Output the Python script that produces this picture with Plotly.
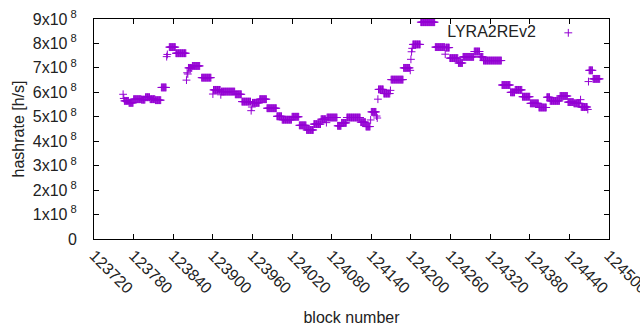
import plotly.graph_objects as go

# Runs of consecutive blocks with a constant hashrate estimate (units of 1e8 h/s)
seg_start = [123764, 123765, 123766, 123773, 123780, 123792, 123798, 123805, 123813, 123822,
             123830, 123831, 123834, 123844, 123860, 123861, 123862, 123863, 123869, 123883,
             123900, 123901, 123912, 123913, 123934, 123944, 123958, 123959, 123960, 123971,
             123982, 123997, 124005, 124020, 124031, 124042, 124053, 124064, 124072, 124073,
             124089, 124095, 124103, 124124, 124132, 124139, 124140, 124148, 124149, 124150,
             124151, 124159, 124169, 124170, 124189, 124199, 124200, 124201, 124202, 124203,
             124215, 124237, 124252, 124253, 124259, 124272, 124279, 124296, 124305, 124310,
             124338, 124351, 124358, 124369, 124381, 124394, 124406, 124411, 124426, 124438,
             124447, 124457, 124458, 124468, 124469, 124470, 124476]
seg_end = [123764, 123765, 123772, 123779, 123791, 123797, 123804, 123812, 123821, 123829,
           123830, 123831, 123843, 123859, 123860, 123861, 123862, 123868, 123880, 123897,
           123900, 123911, 123912, 123933, 123943, 123957, 123958, 123959, 123970, 123981,
           123996, 124004, 124019, 124030, 124041, 124052, 124063, 124071, 124072, 124088,
           124094, 124102, 124123, 124131, 124138, 124139, 124147, 124148, 124149, 124150,
           124158, 124168, 124169, 124188, 124198, 124199, 124200, 124201, 124202, 124214,
           124236, 124251, 124252, 124258, 124271, 124278, 124295, 124304, 124309, 124337,
           124350, 124357, 124368, 124380, 124393, 124405, 124410, 124425, 124437, 124446,
           124456, 124457, 124467, 124468, 124469, 124475, 124486]
seg_hashrate_e8 = [5.92, 5.75, 5.65, 5.57, 5.72, 5.70, 5.80, 5.72, 5.68, 6.20,
                   7.46, 7.55, 7.85, 7.60, 6.50, 6.80, 6.75, 7.00, 7.08, 6.60,
                   5.93, 6.10, 5.90, 6.03, 5.92, 5.62, 5.25, 5.40, 5.57, 5.72,
                   5.35, 5.02, 4.88, 5.00, 4.65, 4.46, 4.70, 4.90, 4.76, 4.97,
                   4.63, 4.75, 4.97, 4.78, 4.60, 4.87, 5.20, 5.03, 4.95, 5.72,
                   6.12, 5.95, 6.08, 6.52, 7.00, 6.90, 7.35, 7.66, 7.80, 7.96,
                   8.87, 7.85, 7.56, 7.83, 7.40, 7.20, 7.45, 7.67, 7.45, 7.30,
                   6.30, 6.00, 6.10, 5.82, 5.55, 5.38, 5.80, 5.65, 5.85, 5.60,
                   5.55, 5.70, 5.40, 5.30, 6.44, 6.90, 6.55]

x_tick_vals = [123720, 123780, 123840, 123900, 123960, 124020, 124080, 124140,
               124200, 124260, 124320, 124380, 124440, 124500]
x_tick_text = [str(v) for v in x_tick_vals]
y_tick_vals = [0, 1e8, 2e8, 3e8, 4e8, 5e8, 6e8, 7e8, 8e8, 9e8]
y_tick_text = ["0"] + [f"{i}x10<sup> 8</sup>" for i in range(1, 10)]

blocks, rates = [], []
for s, e, v in zip(seg_start, seg_end, seg_hashrate_e8):
    for b in range(s, e + 1):
        blocks.append(b)
        rates.append(v * 1e8)

COLOR = "#9400D3"
FONT = "Liberation Sans"
TXT = "#222222"
FS = 16

fig = go.Figure()
fig.add_trace(go.Scatter(
    x=blocks, y=rates, mode="markers", name="",
    marker=dict(symbol="cross-thin", size=5.6, color=COLOR,
                line=dict(color=COLOR, width=1)),
    showlegend=True,
))

axis_common = dict(showline=True, linecolor="black", linewidth=1, mirror="allticks",
                   ticks="inside", ticklen=5, tickcolor="black", showgrid=False,
                   zeroline=False, automargin=False, ticklabeloverflow="allow",
                   tickfont=dict(family=FONT, size=FS, color=TXT))

fig.update_layout(
    width=640, height=330,
    margin=dict(l=94, r=31, t=19, b=91),
    paper_bgcolor="white", plot_bgcolor="white",
    font=dict(family=FONT, size=FS, color=TXT),
    xaxis=dict(range=[123719.9, 124500.1], tickvals=x_tick_vals, ticktext=x_tick_text,
               tickangle=45,
               title=dict(text="block number", font=dict(family=FONT, size=FS, color=TXT)),
               **axis_common),
    yaxis=dict(range=[0, 9e8], tickvals=y_tick_vals, ticktext=y_tick_text,
               ticklabelstandoff=13,
               title=dict(text="hashrate [h/s]", standoff=4,
                          font=dict(family=FONT, size=FS, color=TXT)),
               **axis_common),
    legend=dict(x=0.682, y=1.014, xanchor="left", yanchor="top",
                bgcolor="rgba(0,0,0,0)", borderwidth=0,
                title=dict(text="LYRA2REv2&nbsp;", side="left",
                           font=dict(family=FONT, size=FS, color=TXT)),
                font=dict(family=FONT, size=FS)),
)

fig.write_html("out.html", config={"displayModeBar": False},
               post_script="document.body.style.margin='0';")
